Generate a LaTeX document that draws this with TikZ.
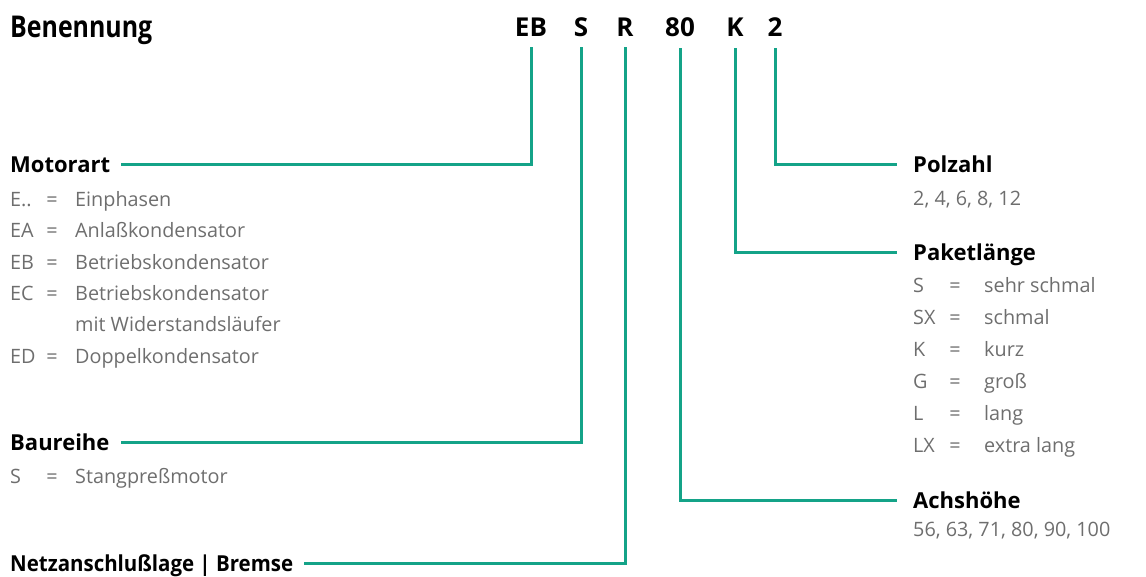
\documentclass[tikz,border=0pt]{standalone}
\usepackage{fontspec}
\setmainfont{Open Sans}
\definecolor{teal1}{HTML}{14A388}
\definecolor{txtgray}{HTML}{6E6E6E}
\tikzset{
  conn/.style={draw=teal1, line width=3pt},
  title/.style={font=\bfseries\fontsize{30}{32}\selectfont, inner sep=0pt, anchor=base west},
  code/.style={font=\bfseries\fontsize{26}{28}\selectfont, inner sep=0pt, anchor=base},
  lab/.style={font=\bfseries\fontsize{22}{24}\selectfont, inner sep=0pt, anchor=base west, text height=16pt, text depth=0pt},
  ent/.style={font=\fontsize{19.8}{22}\selectfont, text=txtgray, inner sep=0pt, anchor=base west},
  eq/.style={font=\fontsize{19.8}{22}\selectfont, text=txtgray, inner sep=0pt, anchor=base}
}
\begin{document}
\begin{tikzpicture}[x=1pt,y=-1pt]
\useasboundingbox (0,0) rectangle (1146,576);
% title and code
\node[title] (ben) at (10,37) {\scalebox{0.83}[1]{Benennung}};
\node[code] (cEB) at (531,36) {EB};
\node[code] (cS)  at (581,36) {S};
\node[code] (cR)  at (625,36) {R};
\node[code] (c80) at (680,36) {80};
\node[code] (cK)  at (735,36) {K};
\node[code] (c2)  at (775,36) {2};
% left labels
\node[lab] (motorart) at (10,172) {Motorart};
\node[lab] (baureihe) at (10,450) {Baureihe};
\node[lab] (netz) at (10,571) {\scalebox{0.93}[1]{Netzanschlußlage | Bremse}};
% right labels
\node[lab] (polzahl) at (913,172) {Polzahl};
\node[lab] (paket) at (913,260) {Paketlänge};
\node[lab] (achs) at (913,508) {Achshöhe};
% Motorart entries
\node[ent] (m1a) at (10,206) {E..};   \node[eq] (m1b) at (52,206) {=};   \node[ent] (m1c) at (75,206) {Einphasen};
\node[ent] (m2a) at (10,237.5) {EA};  \node[eq] (m2b) at (52,237.5) {=}; \node[ent] (m2c) at (75,237.5) {Anlaßkondensator};
\node[ent] (m3a) at (10,269) {EB};    \node[eq] (m3b) at (52,269) {=};   \node[ent] (m3c) at (75,269) {Betriebskondensator};
\node[ent] (m4a) at (10,300) {EC};    \node[eq] (m4b) at (52,300) {=};   \node[ent] (m4c) at (75,300) {Betriebskondensator};
\node[ent] (m4d) at (75,331.5) {mit Widerstandsläufer};
\node[ent] (m5a) at (10,363) {ED};    \node[eq] (m5b) at (52,363) {=};   \node[ent] (m5c) at (75,363) {Doppelkondensator};
% Baureihe entry
\node[ent] (b1a) at (10,483) {S};     \node[eq] (b1b) at (52,483) {=};   \node[ent] (b1c) at (75,483) {Stangpreßmotor};
% Polzahl entry
\node[ent] (p1) at (913,205) {2, 4, 6, 8, 12};
% Paketlaenge entries
\node[ent] (k1a) at (913,292) {S};  \node[eq] (k1b) at (955,292) {=}; \node[ent] (k1c) at (984,292) {sehr schmal};
\node[ent] (k2a) at (913,324) {SX}; \node[eq] (k2b) at (955,324) {=}; \node[ent] (k2c) at (984,324) {schmal};
\node[ent] (k3a) at (913,356) {K};  \node[eq] (k3b) at (955,356) {=}; \node[ent] (k3c) at (984,356) {kurz};
\node[ent] (k4a) at (913,388) {G};  \node[eq] (k4b) at (955,388) {=}; \node[ent] (k4c) at (984,388) {groß};
\node[ent] (k5a) at (913,420) {L};  \node[eq] (k5b) at (955,420) {=}; \node[ent] (k5c) at (984,420) {lang};
\node[ent] (k6a) at (913,452) {LX}; \node[eq] (k6b) at (955,452) {=}; \node[ent] (k6c) at (984,452) {extra lang};
% Achshoehe entry
\node[ent] (a1) at (913,536) {56, 63, 71, 80, 90, 100};
% connectors
\draw[conn] ([yshift=-11pt]cEB.base) |- ([xshift=11pt]motorart.east);
\draw[conn] ([yshift=-11pt]cS.base) |- ([xshift=11pt]baureihe.east);
\draw[conn] ([yshift=-11pt]cR.base) |- ([xshift=11pt]netz.east);
\draw[conn] ([yshift=-12pt]c80.base) |- ([xshift=-16pt]achs.west);
\draw[conn] ([yshift=-12pt]cK.base) |- ([xshift=-16pt]paket.west);
\draw[conn] ([yshift=-12pt]c2.base) |- ([xshift=-16pt]polzahl.west);
\end{tikzpicture}
\end{document}
